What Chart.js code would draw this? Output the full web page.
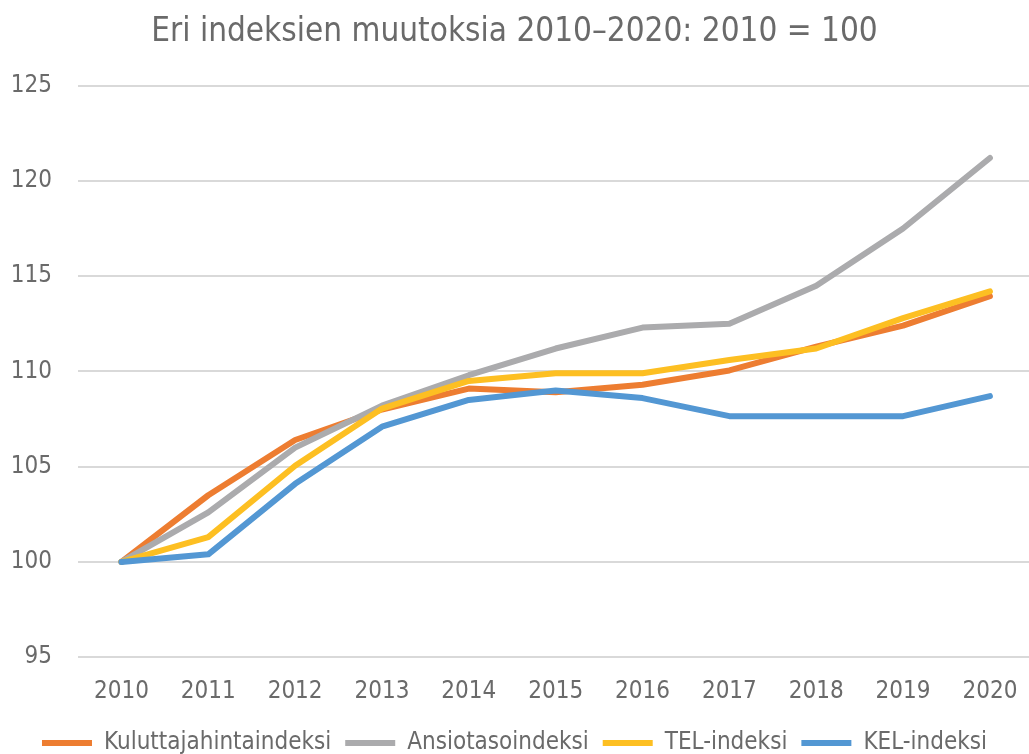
<!DOCTYPE html>
<html lang="fi">
<head>
<meta charset="UTF-8">
<title>Eri indeksien muutoksia 2010–2020</title>
<script src="https://cdn.jsdelivr.net/npm/chart.js"></script>
<style>
  html, body { margin: 0; padding: 0; background: #ffffff; }
  #wrap { width: 1029px; height: 754px; }
</style>
</head>
<body>
<div id="wrap"><canvas id="chart" width="1029" height="754"></canvas></div>
<script>
// Years shown on the x axis
const years = [2010, 2011, 2012, 2013, 2014, 2015, 2016, 2017, 2018, 2019, 2020];

// Index values, 2010 = 100
const kuluttajahinta = [100, 103.5, 106.4, 108.0, 109.1, 108.9, 109.3, 110.05, 111.3, 112.4, 113.95];
const ansiotaso      = [100, 102.6, 106.0, 108.2, 109.8, 111.2, 112.3, 112.5, 114.5, 117.5, 121.2];
const telIndeksi     = [100, 101.3, 105.05, 108.05, 109.5, 109.9, 109.9, 110.6, 111.2, 112.8, 114.2];
const kelIndeksi     = [100, 100.4, 104.1, 107.1, 108.5, 109.0, 108.6, 107.65, 107.65, 107.65, 108.7];

const yTicks = [95, 100, 105, 110, 115, 120, 125];

const fontFamily = '"Liberation Sans Narrow", "DejaVu Sans Condensed", "Open Sans", sans-serif';
const textColor = '#6a6a6a';

const toPoints = (vals) => vals.map((v, i) => ({ x: years[i], y: v }));

const makeSet = (label, vals, color, order) => ({
  label: label,
  data: toPoints(vals),
  borderColor: color,
  backgroundColor: color,
  borderWidth: 6,
  borderCapStyle: 'round',
  borderJoinStyle: 'round',
  pointRadius: 0,
  tension: 0,
  fill: false,
  order: order
});

new Chart(document.getElementById('chart'), {
  type: 'line',
  data: {
    datasets: [
      makeSet('Kuluttajahintaindeksi', kuluttajahinta, '#ED7D31', 4),
      makeSet('Ansiotasoindeksi', ansiotaso, '#ABABAD', 3),
      makeSet('TEL-indeksi', telIndeksi, '#FDBF22', 2),
      makeSet('KEL-indeksi', kelIndeksi, '#5397D3', 1)
    ]
  },
  options: {
    responsive: false,
    animation: false,
    // legend sits a bit lower than chart.js would put it
    layout: { padding: { left: 0, right: 0, top: 0, bottom: -11 } },
    scales: {
      x: {
        type: 'linear',
        min: 2009.5,
        max: 2020.45,
        afterBuildTicks: (scale) => { scale.ticks = years.map(v => ({ value: v })); },
        afterFit: (scale) => {
          scale.paddingLeft = 0;
          scale.paddingRight = 0;
          scale.height -= 9;
        },
        grid: { display: false, drawTicks: false },
        border: { display: false },
        ticks: {
          padding: 20,
          color: textColor,
          font: { family: fontFamily, size: 24 },
          callback: (v) => String(v),
          maxRotation: 0,
          autoSkip: false
        }
      },
      y: {
        min: 95,
        max: 125,
        afterBuildTicks: (scale) => { scale.ticks = yTicks.map(v => ({ value: v })); },
        afterFit: (scale) => { scale.width = 78; },
        grid: { color: '#d9d9d9', lineWidth: 2, drawTicks: false },
        border: { display: false },
        ticks: {
          padding: 26,
          color: textColor,
          font: { family: fontFamily, size: 24 }
        }
      }
    },
    plugins: {
      title: {
        display: true,
        text: 'Eri indeksien muutoksia 2010–2020: 2010 = 100',
        color: textColor,
        font: { family: fontFamily, size: 33, weight: 'normal' },
        padding: { top: 13, bottom: 33 }
      },
      legend: {
        position: 'bottom',
        labels: {
          usePointStyle: true,
          pointStyle: 'line',
          pointStyleWidth: 50,
          boxHeight: 6,
          padding: 14,
          color: textColor,
          font: { family: fontFamily, size: 24 },
          sort: (a, b) => a.datasetIndex - b.datasetIndex
        }
      },
      tooltip: { enabled: false }
    }
  }
});
</script>
</body>
</html>
